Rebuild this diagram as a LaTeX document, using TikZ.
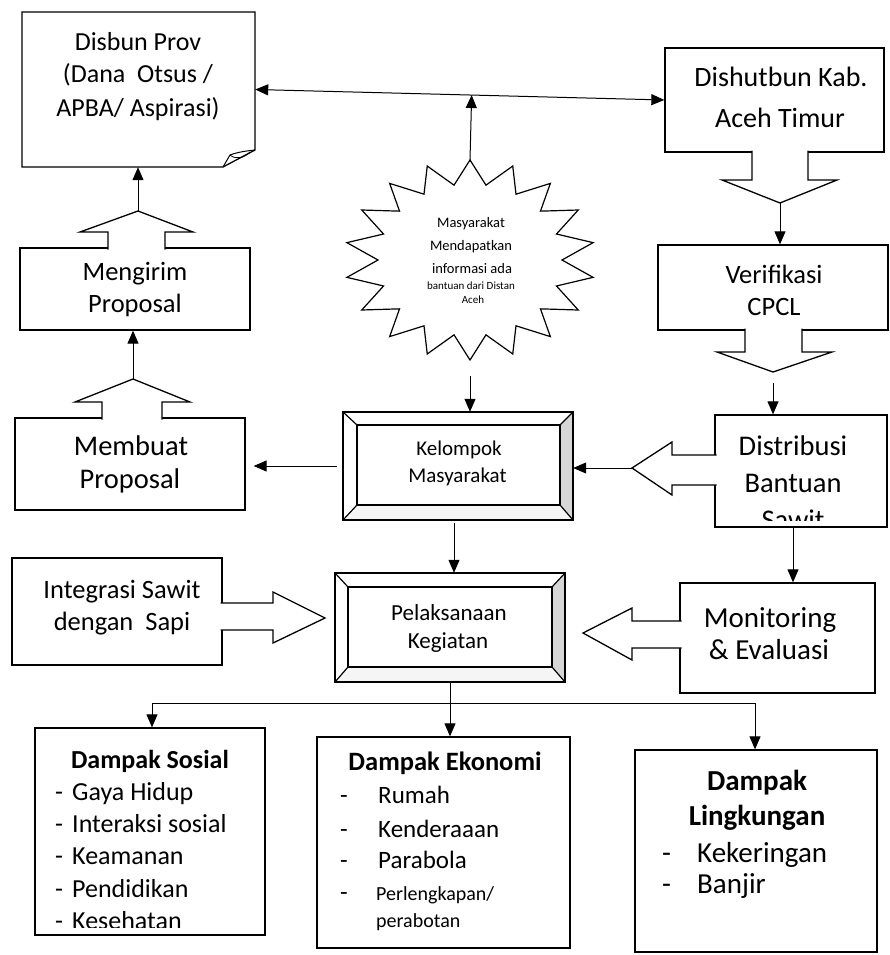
\documentclass[tikz,border=0pt]{standalone}
\usepackage{fontspec}
\setmainfont{Carlito}
\usetikzlibrary{arrows.meta,calc}
\newcommand{\myfs}[1]{\fontsize{#1pt}{#1pt}\selectfont}
\begin{document}
\begin{tikzpicture}[x=1pt,y=-1pt,
  box/.style={draw, line width=1.3pt, inner sep=0pt},
  ghost/.style={inner sep=0pt},
  conn/.style={line width=1pt, -{Triangle[length=13pt,width=11pt]}},
  conn2/.style={line width=1pt, {Triangle[length=13pt,width=11pt]}-{Triangle[length=13pt,width=11pt]}},
  plain/.style={line width=1pt},
  callout/.style={draw, line width=1.3pt, fill=white, line join=miter},
  bevel/.style={line width=1.2pt, line join=miter},
  shade/.style={fill=gray!32},
  txt/.style={inner sep=0pt, anchor=base},
  lft/.style={inner sep=0pt, anchor=base west}]
\useasboundingbox (0,0) rectangle (890,955);
\fill[white] (0,0) rectangle (890,955);

% ---------- Disbun Prov (folded corner) ----------
\node[ghost, minimum width=233pt, minimum height=155pt] (disbun) at (138.5,89.5) {};
\draw[line width=1.3pt, line join=miter] (22,12) -- (255,12) -- (255,150) -- (223,167) -- (22,167) -- cycle;
\draw[line width=1pt] (223,167) -- (230,155) .. controls (238,152) and (246,151) .. (255,150);
\draw[line width=0.8pt] (230,155) .. controls (236,160) and (244,158) .. (250,152);
\node[txt, font=\myfs{26}] (disbunA) at (138,51) {Disbun Prov};
\node[txt, font=\myfs{26}] (disbunB) at (138,83) {(Dana~ Otsus /};
\node[txt, font=\myfs{26}] (disbunC) at (138,117) {APBA/ Aspirasi)};

% ---------- Dishutbun ----------
\node[box, minimum width=219pt, minimum height=104pt] (dishut) at (774.5,100) {};
\node[txt, font=\myfs{28}] (dishutA) at (781,87) {Dishutbun Kab.};
\node[txt, font=\myfs{28}] (dishutB) at (780,128) {Aceh Timur};
\draw[callout] (752,150.5) -- (752,180) -- (722,180) -- (780,203) -- (837,180) -- (808,180) -- (808,150.5);
\coordinate (dishutTip) at (780,203);

% ---------- Verifikasi ----------
\node[box, minimum width=230pt, minimum height=85pt] (verif) at (773,287.5) {};
\node[txt, font=\myfs{26.5}] (verifA) at (774,283) {Verifikasi};
\node[txt, font=\myfs{26.5}] (verifB) at (774,315) {CPCL};
\draw[callout] (745,328.5) -- (745,352) -- (717,352) -- (773,372) -- (832,352) -- (802,352) -- (802,328.5);
\coordinate (verifTip) at (773,372);

% ---------- Distribusi ----------
\node[box, minimum width=172pt, minimum height=112pt] (distrib) at (801,471) {};
\begin{scope}
\clip (715,415) rectangle (887,520);
\node[txt, font=\myfs{28.5}] (distA) at (793,455) {Distribusi};
\node[txt, font=\myfs{28.5}] (distB) at (793,492) {Bantuan};
\node[txt, font=\myfs{28.5}] (distC) at (793,529) {Sawit};
\end{scope}
\draw[callout] (716.5,455) -- (672,455) -- (672,442) -- (632,468) -- (672,495) -- (672,485) -- (716.5,485);
\coordinate (distTip) at (632,468);

% ---------- Monitoring ----------
\node[box, minimum width=195pt, minimum height=110pt] (monitor) at (777.5,638) {};
\node[txt, font=\myfs{29}] (monA) at (770,627) {Monitoring};
\node[txt, font=\myfs{29}] (monB) at (769,659) {\& Evaluasi};
\draw[callout] (681.5,621) -- (632,621) -- (632,608) -- (583,633) -- (632,660) -- (632,648) -- (681.5,648);

% ---------- Mengirim Proposal ----------
\node[box, minimum width=230pt, minimum height=82pt] (mengirim) at (135,289) {};
\node[txt, font=\myfs{26.5}] (mengA) at (135,280) {Mengirim};
\node[txt, font=\myfs{26.5}] (mengB) at (135,312) {Proposal};
\draw[callout] (108,249.5) -- (108,232) -- (80,232) -- (138,211) -- (193,232) -- (165,232) -- (165,249.5);
\coordinate (mengTip) at (138,211);

% ---------- Membuat Proposal ----------
\node[box, minimum width=230pt, minimum height=92pt] (membuat) at (130,464) {};
\node[txt, font=\myfs{28.5}] (memA) at (131,455) {Membuat};
\node[txt, font=\myfs{28.5}] (memB) at (130,488) {Proposal};
\draw[callout] (102,419.5) -- (102,402) -- (75,402) -- (133,379) -- (190,402) -- (162,402) -- (162,419.5);
\coordinate (memTip) at (133,379);

% ---------- Integrasi ----------
\node[box, minimum width=210pt, minimum height=107pt] (integ) at (117,611.5) {};
\node[txt, font=\myfs{26.5}] (integA) at (122,598) {Integrasi Sawit};
\node[txt, font=\myfs{26.5}] (integB) at (122,630) {dengan~ Sapi};
\draw[callout] (220.5,603) -- (273,603) -- (273,592) -- (325,618) -- (273,643) -- (273,630) -- (220.5,630);

% ---------- Star ----------
\coordinate (starC) at (470,260);
\coordinate (starTop) at (470,160);
\coordinate (starBot) at (470,360);
\draw[line width=1.2pt, fill=white, line join=miter]
  plot[samples at={0,...,35}, variable=\k]
  ({470+ifthenelse(mod(\k,2)==0,125,92)*sin(\k*10)}, {260-ifthenelse(mod(\k,2)==0,100,76)*cos(\k*10)}) -- cycle;
\node[txt, font=\myfs{14.5}] (starA) at (471,227) {Masyarakat};
\node[txt, font=\myfs{14.5}] (starB) at (471,250) {Mendapatkan};
\node[txt, font=\myfs{14.5}] (starD) at (472,273) {informasi ada};
\node[txt, font=\myfs{11}] (starE) at (471,289) {bantuan dari Distan};
\node[txt, font=\myfs{11}] (starF) at (473,303) {Aceh};

% ---------- Kelompok Masyarakat (bevel) ----------
\node[ghost, minimum width=230pt, minimum height=108pt] (kelompok) at (458,466) {};
\fill[shade] (573,412) -- (573,520) -- (560,505) -- (560,425) -- cycle;
\fill[gray!8] (343,520) -- (573,520) -- (560,505) -- (357,505) -- cycle;
\draw[bevel] (343,412) rectangle (573,520);
\draw[bevel] (357,425) rectangle (560,505);
\draw[bevel] (343,412) -- (357,425) (573,412) -- (560,425) (343,520) -- (357,505) (573,520) -- (560,505);
\node[txt, font=\myfs{21}] (kelA) at (459,455) {Kelompok};
\node[txt, font=\myfs{21}] (kelB) at (457.5,482) {Masyarakat};

% ---------- Pelaksanaan Kegiatan (bevel) ----------
\node[ghost, minimum width=230pt, minimum height=109pt] (pelak) at (450,627.5) {};
\fill[shade] (565,573) -- (565,682) -- (552,667) -- (552,587) -- cycle;
\fill[gray!8] (335,682) -- (565,682) -- (552,667) -- (348,667) -- cycle;
\draw[bevel] (335,573) rectangle (565,682);
\draw[bevel] (348,587) rectangle (552,667);
\draw[bevel] (335,573) -- (348,587) (565,573) -- (552,587) (335,682) -- (348,667) (565,682) -- (552,667);
\node[txt, font=\myfs{23}] (pelA) at (449,620) {Pelaksanaan};
\node[txt, font=\myfs{23}] (pelB) at (448,648) {Kegiatan};

% ---------- Dampak boxes ----------
\node[box, minimum width=230pt, minimum height=207pt] (sosial) at (150,831.5) {};
\node[box, minimum width=253pt, minimum height=211pt] (ekonomi) at (443.5,842.5) {};
\node[box, minimum width=242pt, minimum height=202pt] (lingk) at (756,851) {};

\node[txt, font=\myfs{26}\bfseries] (sosH) at (150,768) {Dampak Sosial};
\begin{scope}
\clip (36,729) rectangle (264,927);
\foreach \t [count=\i] in {Gaya Hidup,Interaksi sosial,Keamanan,Pendidikan,Kesehatan}{
  \node[lft, font=\myfs{26}] (sosD\i) at (55,{800+32.4*(\i-1)}) {-};
  \node[lft, font=\myfs{26}] (sosT\i) at (72,{800+32.4*(\i-1)}) {\t};
}
\end{scope}

\node[txt, font=\myfs{26.5}\bfseries] (ekoH) at (445,770) {Dampak Ekonomi};
\node[lft, font=\myfs{25}] (ekoD1) at (340,803) {-};
\node[lft, font=\myfs{25}] (ekoT1) at (378,803) {Rumah};
\node[lft, font=\myfs{25}] (ekoD2) at (340,837) {-};
\node[lft, font=\myfs{25}] (ekoT2) at (378,837) {Kenderaaan};
\node[lft, font=\myfs{25}] (ekoD3) at (340,868) {-};
\node[lft, font=\myfs{25}] (ekoT3) at (378,868) {Parabola};
\node[lft, font=\myfs{25}] (ekoD4) at (340,900) {-};
\node[lft, font=\myfs{20}] (ekoT4) at (376,900) {Perlengkapan/};
\node[lft, font=\myfs{20}] (ekoT5) at (376,927) {perabotan};

\node[txt, font=\myfs{29}\bfseries] (linH1) at (757,790) {Dampak};
\node[txt, font=\myfs{29}\bfseries] (linH2) at (757,825) {Lingkungan};
\node[lft, font=\myfs{29}] (linD1) at (662,862) {-};
\node[lft, font=\myfs{29}] (linT1) at (697,862) {Kekeringan};
\node[lft, font=\myfs{29}] (linD2) at (662,893) {-};
\node[lft, font=\myfs{29}] (linT2) at (697,893) {Banjir};

% ---------- Connectors ----------
\draw[conn2] (disbun.east) -- (dishut.west);
\draw[conn] (starTop) -- ($(disbun.east)!(starTop)!(dishut.west)$);
\draw[conn] (dishutTip) -- (dishutTip |- verif.north);
\draw[conn, shorten <=11pt] (verifTip) -- (verifTip |- distrib.north);
\draw[conn] (distTip) -- (kelompok.east |- distTip);
\draw[conn, shorten <=16pt] (starBot) -- (starBot |- kelompok.north);
\draw[conn, shorten <=6pt, shorten >=8pt] (kelompok.west) -- (membuat.east |- kelompok.west);
\draw[conn] (memTip) -- (memTip |- mengirim.south);
\draw[conn] (mengTip) -- (mengTip |- disbun.south);
\draw[conn, shorten <=3pt] ([xshift=-4pt]kelompok.south) -- ([xshift=-4pt]kelompok.south |- pelak.north);
\draw[conn] ([xshift=-8pt]distrib.south) -- ([xshift=-8pt]distrib.south |- monitor.north);

\coordinate (busL) at (152,703);
\coordinate (busR) at (755,703);
\draw[plain] (busL) -- (busR);
\draw[conn] (pelak.south) -- (pelak.south |- ekonomi.north);
\draw[conn] (busL) -- (busL |- sosial.north);
\draw[conn] (busR) -- (busR |- lingk.north);
\end{tikzpicture}
\end{document}
